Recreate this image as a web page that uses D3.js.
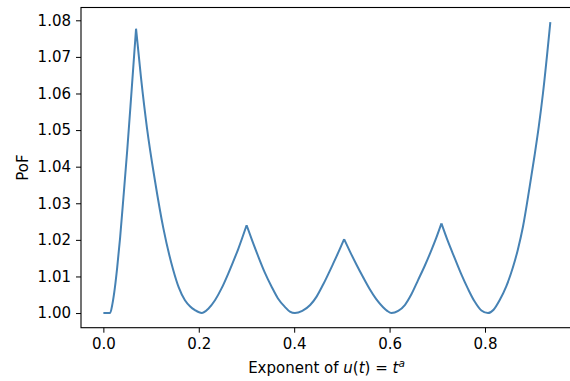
<!DOCTYPE html>
<html>
<head>
<meta charset="utf-8">
<style>
  body { margin: 0; background: #fff; }
  svg { display: block; font-family: "DejaVu Sans", sans-serif; }
  .tick text { font-size: 15px; fill: #000; }
  .tick line { stroke: #000; }
  .curve { fill: none; stroke: #4682b4; stroke-width: 2; stroke-linejoin: round; }
</style>
</head>
<body>
<svg width="570" height="381"></svg>
<script src="https://d3js.org/d3.v7.min.js"></script>
<script>
// exponent a and PoF
var exponent = [
  0, 0.014, 0.019, 0.024, 0.029, 0.035, 0.042, 0.050, 0.059, 0.0685,
  0.079, 0.0915, 0.108, 0.1257, 0.1466, 0.158, 0.171, 0.182, 0.192, 0.206,
  0.22, 0.234, 0.248, 0.2618, 0.272, 0.2827, 0.3003, 0.312, 0.3246, 0.338,
  0.3527, 0.366, 0.3805, 0.391, 0.4015, 0.417, 0.4335, 0.447, 0.4607, 0.4817,
  0.493, 0.5047, 0.517, 0.5307, 0.544, 0.5585, 0.572, 0.5864, 0.595, 0.604,
  0.618, 0.632, 0.646, 0.6597, 0.674, 0.6877, 0.698, 0.7087, 0.722, 0.7365,
  0.750, 0.7644, 0.778, 0.7925, 0.8063, 0.818, 0.8306, 0.8446, 0.8586, 0.869,
  0.8796, 0.8936, 0.9041, 0.9128, 0.9215, 0.937];
var pof = [
  1.0, 1.0, 1.0025, 1.0068, 1.0125, 1.0205, 1.0315, 1.0445, 1.0605, 1.0777,
  1.0642, 1.0505, 1.0363, 1.0232, 1.0117, 1.0070, 1.0035, 1.0018, 1.0008, 1.0,
  1.0012, 1.0035, 1.0068, 1.0108, 1.0140, 1.0175, 1.0240, 1.0198, 1.0155, 1.0112,
  1.0072, 1.0040, 1.0017, 1.0004, 1.0, 1.0006, 1.0022, 1.0045, 1.0078, 1.0135,
  1.0167, 1.0202, 1.0168, 1.0132, 1.0099, 1.0065, 1.0038, 1.0016, 1.0006, 1.0,
  1.0006, 1.0022, 1.0052, 1.0090, 1.0130, 1.0172, 1.0206, 1.0245, 1.0197, 1.0150,
  1.0107, 1.0066, 1.0032, 1.0007, 1.0, 1.0009, 1.0035, 1.0073, 1.0125, 1.0174,
  1.0236, 1.0345, 1.0432, 1.0510, 1.0600, 1.0795];
var xTicks = [0, 0.2, 0.4, 0.6, 0.8];
var yTicks = [1.00, 1.01, 1.02, 1.03, 1.04, 1.05, 1.06, 1.07, 1.08];

var data = exponent.map(function(a, i) { return {a: a, p: pof[i]}; });

var plotL = 81, plotR = 573, plotT = 7.5, plotB = 327.7;

var x = d3.scaleLinear().domain([-0.0469, 0.9845]).range([plotL, plotR]);
var y = d3.scaleLinear().domain([0.996, 1.0835]).range([plotB, plotT]);

var svg = d3.select("svg");

// x axis
var gx = svg.append("g")
    .attr("transform", "translate(0," + plotB + ")")
    .call(d3.axisBottom(x).tickValues(xTicks).tickFormat(d3.format(".1f")).tickSize(5).tickPadding(6));
gx.select(".domain").remove();

// y axis
var gy = svg.append("g")
    .attr("transform", "translate(" + plotL + ",0)")
    .call(d3.axisLeft(y).tickValues(yTicks).tickFormat(d3.format(".2f")).tickSize(5).tickPadding(5));
gy.select(".domain").remove();
svg.selectAll(".tick text").attr("font-family", "DejaVu Sans");

// frame
svg.append("rect")
    .attr("x", plotL).attr("y", plotT)
    .attr("width", plotR - plotL).attr("height", plotB - plotT)
    .attr("fill", "none").attr("stroke", "#000").attr("stroke-width", 1.1);

// split at the cusps so each arc is smooth but the peaks stay sharp
var pieces = [], start = 0;
for (var i = 1; i < data.length - 1; i++) {
  if (data[i].p > data[i - 1].p && data[i].p > data[i + 1].p) {
    pieces.push(data.slice(start, i + 1));
    start = i;
  }
}
pieces.push(data.slice(start));

var line = d3.line()
    .x(function(d) { return x(d.a); })
    .y(function(d) { return y(d.p); })
    .curve(d3.curveMonotoneX);

svg.append("path").attr("class", "curve")
    .attr("d", pieces.map(function(s) { return line(s); }).join(""));

// labels
svg.append("text")
    .attr("transform", "translate(28," + ((plotT + plotB) / 2) + ") rotate(-90)")
    .attr("text-anchor", "middle")
    .attr("font-size", 15)
    .text("PoF");

var xl = svg.append("text")
    .attr("x", (plotL + 570) / 2 + 1)
    .attr("y", 373)
    .attr("text-anchor", "middle")
    .attr("font-size", 15);
xl.append("tspan").text("Exponent of ");
xl.append("tspan").attr("font-style", "italic").text("u");
xl.append("tspan").text("(");
xl.append("tspan").attr("font-style", "italic").text("t");
xl.append("tspan").text(") = ");
xl.append("tspan").attr("font-style", "italic").text("t");
xl.append("tspan").attr("font-style", "italic").attr("font-size", 10.5).attr("dy", -6).text("a");
</script>
</body>
</html>
